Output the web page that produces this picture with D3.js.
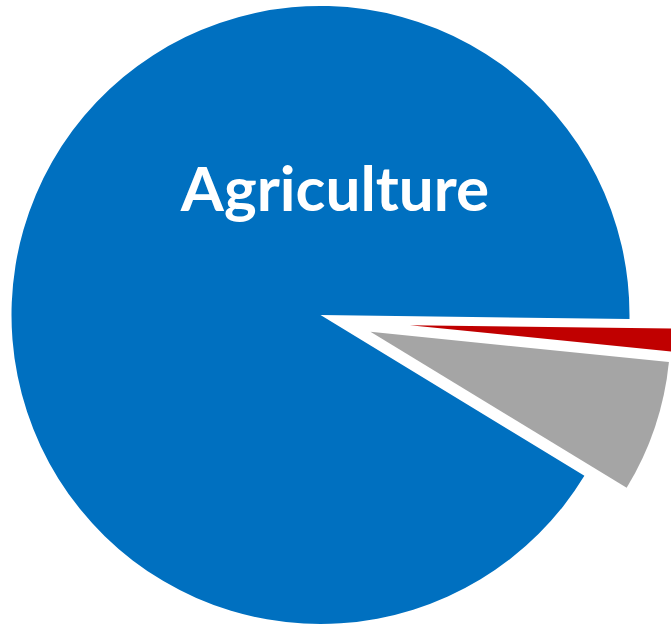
<!DOCTYPE html>
<html>
<head>
<meta charset="utf-8">
<script src="https://cdn.jsdelivr.net/npm/d3@7"></script>
<style>
  html, body { margin: 0; padding: 0; background: #ffffff; }
  svg { display: block; }
</style>
</head>
<body>
<svg id="chart" width="671" height="627"></svg>
<script>
// Share of each sector (percent)
const categories = ["Other", "Industry", "Agriculture"];
const values = [1.4, 7.1, 91.5];
const colors = ["#C00000", "#A5A5A5", "#0070C0"];
const labels = ["", "", "Agriculture"];

// Slice styling: how far each slice is pulled out, the pull direction
// relative to the slice bisector (degrees), and its radius
const explode = [90, 52.7, 0];
const explodeTilt = [3.2, 0, 0];
const radii = [300, 300, 309];

const width = 671, height = 627;
const cx = 320.5, cy = 315;
const startDeg = 90.75; // first slice starts just below 3 o'clock

const svg = d3.select("#chart");
const g = svg.append("g").attr("transform", `translate(${cx},${cy})`);

const start = startDeg * Math.PI / 180;
const pie = d3.pie().sort(null).value(d => d)
  .startAngle(start).endAngle(start + 2 * Math.PI);

const arcs = pie(values);

g.selectAll("path.slice")
  .data(arcs)
  .join("path")
  .attr("class", "slice")
  .attr("fill", (d, i) => colors[i])
  .attr("transform", (d, i) => {
    const dir = (d.startAngle + d.endAngle) / 2 + explodeTilt[i] * Math.PI / 180;
    const dx = explode[i] * Math.sin(dir);
    const dy = -explode[i] * Math.cos(dir);
    return `translate(${dx},${dy})`;
  })
  .attr("d", (d, i) => d3.arc().innerRadius(0).outerRadius(radii[i])(d));

// Category label for the dominant slice
g.selectAll("text.label")
  .data(arcs.filter((d, i) => labels[i]))
  .join("text")
  .attr("class", "label")
  .attr("x", 14.5)
  .attr("y", -104)
  .attr("text-anchor", "middle")
  .attr("fill", "#ffffff")
  .attr("font-family", "Lato, 'Open Sans', sans-serif")
  .attr("font-weight", "bold")
  .attr("font-size", 62)
  .text(d => labels[d.index]);
</script>
</body>
</html>
